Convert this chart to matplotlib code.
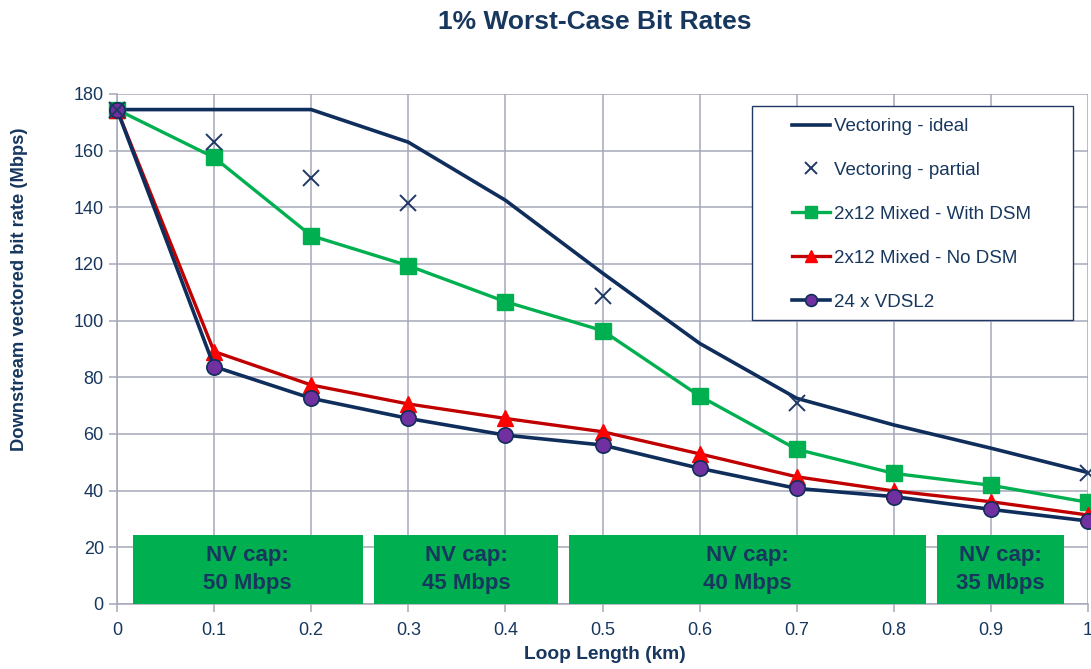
import matplotlib.pyplot as plt
from matplotlib.patches import Rectangle

plt.rcParams['font.family'] = ['Liberation Sans', 'DejaVu Sans']

NAVY = '#17375e'
GRID = '#a6a8bb'

# Loop length (km)
loop_km = [0, 0.1, 0.2, 0.3, 0.4, 0.5, 0.6, 0.7, 0.8, 0.9, 1.0]

# Downstream rates (Mbps)
vect_ideal = [174.5, 174.5, 174.5, 163, 142.5, 116.8, 92, 72.6, 63.2, 55, 46.4]
partial_km = [0, 0.1, 0.2, 0.3, 0.5, 0.7, 1.0]
vect_partial = [174.5, 163, 150.2, 141.4, 108.7, 70.8, 46.4]
mixed_dsm = [174.5, 157.6, 130, 119.4, 106.7, 96.5, 73.4, 54.6, 46.1, 41.9, 35.9]
mixed_no_dsm = [174.5, 89.1, 77.3, 70.6, 65.5, 60.8, 53, 44.9, 39.9, 36.1, 31.4]
vdsl2 = [174.5, 83.8, 72.6, 65.5, 59.6, 56.1, 47.9, 40.8, 37.9, 33.4, 29.3]

# NV cap bands: (start km, end km, label)
cap_start = [0.0165, 0.265, 0.466, 0.8446]
cap_end = [0.2529, 0.4543, 0.833, 0.975]
cap_text = ['NV cap:\n50 Mbps', 'NV cap:\n45 Mbps', 'NV cap:\n40 Mbps', 'NV cap:\n35 Mbps']
cap_top = 24.4

fig = plt.figure(figsize=(10.91, 6.69), dpi=100)
ax = fig.add_axes([117 / 1091, 1 - 604 / 669, 971 / 1091, 510 / 669])

ax.plot(loop_km, vect_ideal, color='#0f2e5c', lw=2.6, label='Vectoring - ideal', zorder=4)
ax.plot(partial_km, vect_partial, ls='none', marker='x', ms=11, mew=1.4,
        color='#1f3864', label='Vectoring - partial', zorder=5, clip_on=False)
ax.plot(loop_km, mixed_dsm, color='#00b050', lw=2.4, marker='s', ms=11,
        label='2x12 Mixed - With DSM', zorder=4, clip_on=False)
ax.plot(loop_km, mixed_no_dsm, color='#c00000', lw=2.4, marker='^', ms=11,
        mfc='#ff0000', mec='#ff0000', label='2x12 Mixed - No DSM', zorder=4, clip_on=False)
ax.plot(loop_km, vdsl2, color='#0f2e5c', lw=2.6, marker='o', ms=11,
        mfc='#7030a0', mec='#0f2e5c', mew=1.2, label='24 x VDSL2', zorder=4, clip_on=False)

for x0, x1, txt in zip(cap_start, cap_end, cap_text):
    ax.add_patch(Rectangle((x0, 0), x1 - x0, cap_top, facecolor='#00b050',
                           edgecolor='none', zorder=3))
    ax.text((x0 + x1) / 2, cap_top / 2, txt, ha='center', va='center',
            fontsize=16, fontweight='bold', color=NAVY, linespacing=1.4, zorder=3)

ax.set_xlim(0, 1)
ax.set_ylim(0, 180)
ax.set_xticks(loop_km)
ax.set_xticklabels(['0', '0.1', '0.2', '0.3', '0.4', '0.5', '0.6', '0.7', '0.8', '0.9', '1'])
ax.set_yticks(range(0, 181, 20))
ax.grid(True, color=GRID, lw=1.1, zorder=0)
ax.set_axisbelow(True)
for side in ['top', 'right']:
    ax.spines[side].set_visible(False)
for side in ['left', 'bottom']:
    ax.spines[side].set_color(GRID)
    ax.spines[side].set_linewidth(1.1)
ax.tick_params(colors=GRID, labelcolor=NAVY, labelsize=13, length=6, width=1.1)
ax.tick_params(axis='x', pad=7)

ax.set_xlabel('Loop Length (km)', fontsize=13.8, fontweight='bold', color=NAVY)
ax.xaxis.set_label_coords(0.502, -0.083)
ax.set_ylabel('Downstream vectored bit rate (Mbps)', fontsize=13.2, fontweight='bold',
              color=NAVY)
ax.yaxis.set_label_coords(-0.092, 0.618)
fig.suptitle('1% Worst-Case Bit Rates', x=0.545, y=0.985, fontsize=19,
             fontweight='bold', color=NAVY)

# legend frame drawn separately so the padding can differ per side
ax.add_patch(Rectangle((0.654, 0.557), 0.331, 0.419, transform=ax.transAxes,
                       facecolor='white', edgecolor='#1f3864', lw=1.0, zorder=6))
leg = ax.legend(loc='upper left', bbox_to_anchor=(0.695, 0.953), frameon=False,
                fontsize=13.5, labelcolor=NAVY, borderpad=0, borderaxespad=0,
                labelspacing=1.43, handlelength=2.03, handletextpad=0.21)
leg.set_zorder(7)
for h in leg.legend_handles:
    h.set_markersize(8.5)

fig.savefig('out.png', dpi=100)
